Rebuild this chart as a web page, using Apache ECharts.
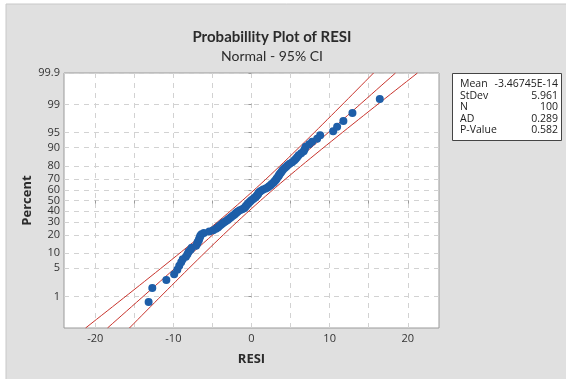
<!DOCTYPE html>
<html>
<head>
<meta charset="utf-8">
<script src="https://cdn.jsdelivr.net/npm/echarts@6/dist/echarts.min.js"></script>
<style>
  html, body { margin: 0; padding: 0; background: #fff; }
  #chart { width: 566px; height: 379px; }
</style>
</head>
<body>
<div id="chart"></div>
<script>
// residuals, sorted
const resi = [
  -13.17, -12.70, -10.90, -9.90, -9.50, -9.25, -9.00, -8.80, -8.40, -8.20,
  -8.05, -7.80, -7.65, -7.10, -6.95, -6.90, -6.75, -6.70, -6.60, -6.55,
  -6.40, -6.10, -5.40, -4.90, -4.55, -4.30, -4.15, -3.95, -3.75, -3.55,
  -3.35, -3.10, -2.95, -2.75, -2.60, -2.40, -2.20, -2.05, -1.90, -1.75,
  -1.50, -1.20, -0.95, -0.82, -0.74, -0.61, -0.49, -0.36, -0.23, -0.10,
  0.03, 0.22, 0.35, 0.54, 0.66, 0.79, 0.86, 0.92, 1.05, 1.24,
  1.50, 1.82, 2.07, 2.26, 2.46, 2.58, 2.78, 2.90, 3.03, 3.16,
  3.22, 3.35, 3.48, 3.54, 3.67, 3.80, 3.93, 4.05, 4.25, 4.44,
  4.63, 4.88, 5.20, 5.46, 5.65, 5.84, 6.04, 6.36, 6.68, 6.80,
  6.93, 7.38, 7.76, 8.40, 8.79, 10.45, 10.96, 11.76, 12.92, 16.42
];
const percentTicks = [1, 5, 10, 20, 30, 40, 50, 60, 70, 80, 90, 95, 99, 99.9];
const xLabelTicks = [-20, -10, 0, 10, 20];
const xGridTicks = [-20, -15, -10, -5, 0, 5, 10, 15, 20];
const statNames = ['Mean', 'StDev', 'N', 'AD', 'P-Value'];
const statValues = ['-3.46745E-14', '5.961', '100', '0.289', '0.582'];
const mean = -3.46745e-14;
const sd = 5.961;

// inverse normal cdf (Acklam)
function qnorm(p) {
  const a = [-3.969683028665376e+01, 2.209460984245205e+02, -2.759285104469687e+02, 1.383577518672690e+02, -3.066479806614716e+01, 2.506628277459239e+00];
  const b = [-5.447609879822406e+01, 1.615858368580409e+02, -1.556989798598866e+02, 6.680131188771972e+01, -1.328068155288572e+01];
  const c = [-7.784894002430293e-03, -3.223964580411365e-01, -2.400758277161838e+00, -2.549732539343734e+00, 4.374664141464968e+00, 2.938163982698783e+00];
  const d = [7.784695709041462e-03, 3.224671290700398e-01, 2.445134137142996e+00, 3.754408661907416e+00];
  const plow = 0.02425;
  let q, r;
  if (p < plow) {
    q = Math.sqrt(-2 * Math.log(p));
    return (((((c[0]*q+c[1])*q+c[2])*q+c[3])*q+c[4])*q+c[5]) / ((((d[0]*q+d[1])*q+d[2])*q+d[3])*q+1);
  }
  if (p <= 1 - plow) {
    q = p - 0.5; r = q * q;
    return (((((a[0]*r+a[1])*r+a[2])*r+a[3])*r+a[4])*r+a[5])*q / (((((b[0]*r+b[1])*r+b[2])*r+b[3])*r+b[4])*r+1);
  }
  q = Math.sqrt(-2 * Math.log(1 - p));
  return -(((((c[0]*q+c[1])*q+c[2])*q+c[3])*q+c[4])*q+c[5]) / ((((d[0]*q+d[1])*q+d[2])*q+d[3])*q+1);
}

const n = resi.length;
const zTop = qnorm(0.999);
const yMax = zTop + 0.002;   // a hair of room so the 99.9 label survives
const zTicks = percentTicks.map(p => qnorm(p / 100));

// median-rank plotting positions
const points = resi.map((v, i) => [v, qnorm((i + 1 - 0.3) / (n + 0.4))]);

// fitted line and 95% CI from mean / stdev
const fit = [], lower = [], upper = [];
for (let k = 0; k <= 60; k++) {
  const z = -yMax + (2 * yMax) * k / 60;
  const x = mean + sd * z;
  const h = 1.96 * sd * Math.sqrt((1 + z * z / 2) / n);
  fit.push([x, z]);
  lower.push([x + h, z]);
  upper.push([x - h, z]);
}

const red = '#c8332c';
const lineSeries = (data) => ({
  type: 'line', data: data, showSymbol: false, silent: true,
  lineStyle: { color: red, width: 1 }, z: 2
});

const chart = echarts.init(document.getElementById('chart'));
chart.setOption({
  animation: false,
  textStyle: { fontFamily: 'Open Sans' },
  title: [
    { text: 'Probabillity Plot of RESI', left: 267, top: 25, textAlign: 'center',
      textStyle: { fontSize: 15, fontWeight: 'bold', color: '#2b2b2b', fontFamily: 'Lato' } },
    { text: 'Normal - 95% CI', left: 267, top: 44, textAlign: 'center',
      textStyle: { fontSize: 14, fontWeight: 'normal', color: '#2b2b2b', fontFamily: 'Lato' } }
  ],
  grid: {
    left: 64, top: 73, right: 127, bottom: 51,
    show: true, backgroundColor: '#fff', borderColor: '#9a9a9a', borderWidth: 1
  },
  xAxis: {
    type: 'value', min: -24, max: 24,
    name: 'RESI', nameLocation: 'middle', nameGap: 25,
    nameTextStyle: { fontSize: 13, fontWeight: 'bold', color: '#2b2b2b' },
    axisLine: { show: false },
    axisTick: { customValues: xGridTicks, length: 3, lineStyle: { color: '#9a9a9a' } },
    axisLabel: { customValues: xLabelTicks, fontSize: 11, color: '#333', margin: 5 },
    splitLine: { show: true, lineStyle: { color: '#d2d2d2', type: [5, 5] } }
  },
  yAxis: {
    type: 'value', min: -yMax, max: yMax,
    name: 'Percent', nameLocation: 'middle', nameGap: 30, nameMoveOverlap: false,
    nameTextStyle: { fontSize: 13, fontWeight: 'bold', color: '#2b2b2b' },
    axisLine: { show: false },
    axisTick: { customValues: zTicks, length: 3, lineStyle: { color: '#9a9a9a' } },
    axisLabel: {
      customValues: zTicks, fontSize: 11, color: '#333', margin: 4,
      showMaxLabel: true,
      formatter: v => {
        const i = zTicks.findIndex(t => Math.abs(t - v) < 1e-6);
        return i >= 0 ? String(percentTicks[i]) : '';
      }
    },
    splitLine: { show: true, lineStyle: { color: '#d2d2d2', type: [5, 5] } }
  },
  series: [
    lineSeries(fit),
    lineSeries(lower),
    lineSeries(upper),
    {
      type: 'scatter', data: points, symbolSize: 8, silent: true,
      itemStyle: { color: '#1e5ea8', opacity: 1 }, z: 3
    }
  ],
  graphic: [
    { type: 'rect', z: -10, shape: { x: 6, y: 4, width: 566, height: 380 },
      style: { fill: '#e0e0e0', stroke: '#c8c8c8', lineWidth: 1 } },
    { type: 'rect', shape: { x: 452.5, y: 73.5, width: 109, height: 67 },
      style: { fill: '#fff', stroke: '#444', lineWidth: 1 } },
    ...statNames.map((s, i) => ({
      type: 'text', x: 460, y: 84 + i * 11.6,
      style: { text: s, fontSize: 10.5, fill: '#222', fontFamily: 'Open Sans', verticalAlign: 'middle' }
    })),
    ...statValues.map((s, i) => ({
      type: 'text', x: 558, y: 84 + i * 11.6,
      style: { text: s, fontSize: 10.5, fill: '#222', fontFamily: 'Open Sans', align: 'right', verticalAlign: 'middle' }
    }))
  ]
});
</script>
</body>
</html>
